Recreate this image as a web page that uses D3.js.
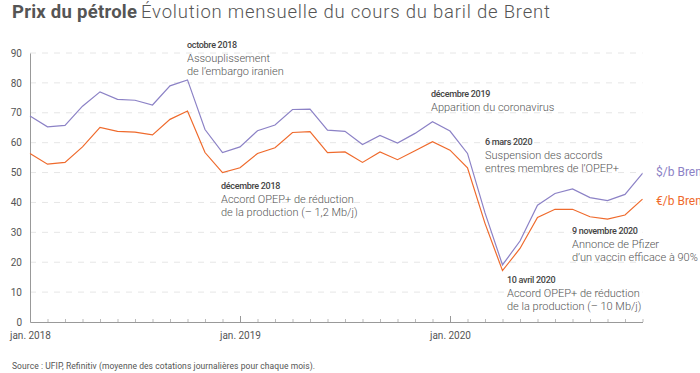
<!DOCTYPE html>
<html>
<head>
<meta charset="utf-8">
<script src="https://cdn.jsdelivr.net/npm/d3@7"></script>
<style>
  body { margin: 0; background: #fff; }
  svg { font-family: Roboto, sans-serif; }
</style>
</head>
<body>
<div id="content"></div>
<script>
const width = 700;
const height = 373;
const purple = '#8c82c6';
const orange = '#ef6a2c';
const grey = '#999';

// jan. 2018 -> déc. 2020, one value per month
const months = d3.range(36);
const usdBrent = [68.9, 65.3, 65.8, 72.2, 77.0, 74.5, 74.2, 72.6, 79.0, 81.0, 64.4, 56.7,
  58.6, 64.0, 65.9, 71.1, 71.2, 64.2, 63.8, 59.4, 62.4, 59.9, 63.1, 67.0,
  63.9, 56.4, 36.5, 19.1, 27.1, 39.1, 43.0, 44.5, 41.6, 40.6, 42.7, 49.7];
const eurBrent = [56.4, 52.8, 53.4, 58.6, 65.1, 63.8, 63.5, 62.6, 67.8, 70.6, 56.7, 50.0,
  51.6, 56.4, 58.3, 63.4, 63.7, 56.7, 56.9, 53.4, 56.9, 54.3, 57.3, 60.3,
  57.5, 51.6, 33.0, 17.2, 24.6, 35.0, 37.7, 37.7, 35.2, 34.4, 35.8, 41.1];
const yTicks = [0, 10, 20, 30, 40, 50, 60, 70, 80, 90];
const yearLabels = { 0: 'jan. 2018', 12: 'jan. 2019', 24: 'jan. 2020' };

const annotations = [
  { x: 187, y: 48, date: 'octobre 2018', lines: ['Assouplissement', 'de l\u2019embargo iranien'] },
  { x: 221, y: 189, date: 'décembre 2018', lines: ['Accord OPEP+ de réduction', 'de la production (\u2013 1,2 Mb/j)'] },
  { x: 431, y: 97, date: 'décembre 2019', lines: ['Apparition du coronavirus'] },
  { x: 485, y: 145, date: '6 mars 2020', lines: ['Suspension des accords', 'entres membres de l\u2019OPEP+'] },
  { x: 572, y: 234, date: '9 novembre 2020', lines: ['Annonce de Pfizer', 'd\u2019un vaccin efficace à 90%'] },
  { x: 507, y: 283, date: '10 avril 2020', lines: ['Accord OPEP+ de réduction', 'de la production (\u2013 10 Mb/j)'] }
];

const svg = d3.select('#content')
  .append('svg')
  .attr('width', width)
  .attr('height', height);

const x = d3.scaleLinear().domain([0, 35]).range([30, 642.5]);
const y = d3.scaleLinear().domain([0, 90]).range([322, 53]);

// title
svg.append('text').attr('x', 12).attr('y', 18).attr('font-size', 18.5)
  .attr('font-weight', 700).attr('fill', '#555')
  .attr('textLength', 125).attr('lengthAdjust', 'spacing')
  .text('Prix du pétrole');
svg.append('text').attr('x', 141).attr('y', 18).attr('font-size', 18.5)
  .attr('font-weight', 300).attr('fill', '#555')
  .attr('textLength', 409).attr('lengthAdjust', 'spacing')
  .text('Évolution mensuelle du cours du baril de Brent');

// grid
svg.append('g')
  .selectAll('line')
  .data(yTicks.filter(d => d > 0))
  .enter()
  .append('line')
  .attr('x1', x(0))
  .attr('x2', x(35))
  .attr('y1', d => y(d))
  .attr('y2', d => y(d))
  .attr('stroke', '#e6e6e6')
  .attr('stroke-dasharray', '6,6');

// y axis
const yAxis = svg.append('g')
  .attr('transform', `translate(${x(0)},0)`)
  .call(d3.axisLeft(y).tickValues(yTicks).tickSize(0).tickPadding(8));
yAxis.select('.domain').attr('stroke', grey);
yAxis.selectAll('text').attr('font-size', 10).attr('fill', '#555').attr('font-family', 'Roboto');

// x axis
const xAxis = svg.append('g')
  .attr('transform', `translate(0,${y(0)})`)
  .call(d3.axisBottom(x).tickValues(months).tickSizeInner(-3).tickSizeOuter(0)
    .tickFormat(d => yearLabels[d] || ''));
xAxis.select('.domain').attr('stroke', grey);
xAxis.selectAll('.tick line')
  .attr('y2', d => (yearLabels[d] ? -6 : -3))
  .attr('stroke', d => (yearLabels[d] ? grey : '#bbb'));
xAxis.selectAll('text').attr('font-size', 10).attr('fill', '#555')
  .attr('font-family', 'Roboto').attr('y', 10);

// lines
const line = d3.line().x((d, i) => x(i)).y(d => y(d));
svg.append('path').datum(usdBrent).attr('d', line)
  .attr('fill', 'none').attr('stroke', purple).attr('stroke-width', 1.2);
svg.append('path').datum(eurBrent).attr('d', line)
  .attr('fill', 'none').attr('stroke', orange).attr('stroke-width', 1.2);

// legend labels
svg.append('text').attr('x', 656).attr('y', 176).attr('font-size', 12)
  .attr('fill', purple).text('$/b Brent');
svg.append('text').attr('x', 656).attr('y', 205).attr('font-size', 12)
  .attr('fill', orange).text('\u20ac/b Brent');

// annotations
const ann = svg.append('g')
  .selectAll('g')
  .data(annotations)
  .enter()
  .append('g');
ann.append('text')
  .attr('x', d => d.x)
  .attr('y', d => d.y)
  .attr('font-size', 9)
  .attr('font-weight', 500)
  .attr('letter-spacing', -0.3)
  .attr('fill', '#444')
  .text(d => d.date);
ann.each(function (d) {
  const t = d3.select(this).append('text')
    .attr('font-size', 11)
    .attr('font-weight', 300)
    .attr('fill', '#555');
  d.lines.forEach((l, i) => {
    t.append('tspan').attr('x', d.x).attr('y', d.y + 14 + i * 13).text(l);
  });
});

// source
svg.append('text').attr('x', 12).attr('y', 369).attr('font-size', 8.5)
  .attr('fill', '#555')
  .attr('textLength', 303).attr('lengthAdjust', 'spacing')
  .text('Source : UFIP, Refinitiv (moyenne des cotations journalières pour chaque mois).');
</script>
</body>
</html>
